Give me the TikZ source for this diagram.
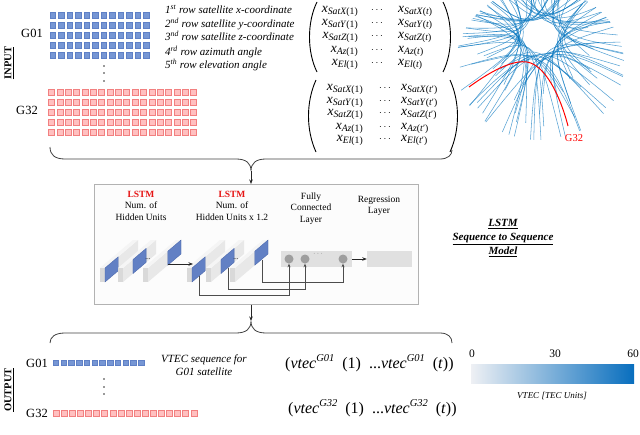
\documentclass[tikz,border=0pt]{standalone}
\usepackage{fontspec}
\setmainfont{Liberation Serif}
\usetikzlibrary{arrows.meta}
\definecolor{skyblue}{RGB}{0,114,189}
\definecolor{sqblue}{RGB}{118,150,212}
\definecolor{sqblueD}{RGB}{95,128,198}
\definecolor{sqred}{RGB}{255,192,192}
\definecolor{sqredD}{RGB}{242,128,128}
\definecolor{slabblue}{RGB}{98,128,196}
\definecolor{slabblueD}{RGB}{70,100,170}
\definecolor{cbL}{RGB}{238,240,244}
\definecolor{cbR}{RGB}{8,110,190}
\definecolor{lstmred}{RGB}{230,20,20}
\newcommand{\myslab}[3]{%
  \begin{scope}[shift={(#1,#2)}]
    \fill[black!9] (5,0) -- (5,-14) -- (38,-42) -- (38,-28) -- cycle;
    \fill[black!4] (0,-14) -- (33,-42) -- (38,-42) -- (5,-14) -- cycle;
    \fill[black!15] (0,0) rectangle (5,-14);
    \filldraw[fill=slabblue, draw=slabblueD, line width=0.3pt] ({5+33*#3},{-28*#3}) -- ++(0,-14) -- ++(13.2,-11.2) -- ++(0,14) -- cycle;
  \end{scope}}
% matrix entry: x with subscript
\newcommand{\xe}[2]{{\fontsize{13.5}{13.5}\selectfont\itshape x}\raisebox{-2pt}{\fontsize{9.7}{9.7}\selectfont\textit{#1}(#2)}}
\newcommand{\vt}[1]{\textit{vtec}\raisebox{6.5pt}{\fontsize{10.5}{11}\selectfont\textit{#1}}}
\begin{document}
\begin{tikzpicture}[x=1pt,y=-1pt,
  bsq/.style={fill=sqblue, draw=sqblueD, line width=0.3pt},
  rsq/.style={fill=sqred, draw=sqredD, line width=0.4pt},
  lbl/.style={font=\fontsize{12.5}{14}\selectfont, inner sep=0},
  rowtxt/.style={font=\fontsize{11}{13}\selectfont\itshape, anchor=base west, inner sep=0},
  ment/.style={font=\fontsize{9.7}{9.7}\selectfont, inner sep=0},
  paren/.style={line width=0.9pt},
  brace/.style={draw=black!75, line width=0.8pt},
  arr/.style={-{Stealth[length=4.5pt,width=3.5pt]}, line width=0.7pt, draw=black!85},
  fb/.style={-{Stealth[length=3.5pt,width=3pt]}, line width=0.6pt, draw=black!70},
  small/.style={font=\fontsize{9.5}{11.5}\selectfont, align=center, inner sep=0},
  vert/.style={font=\fontsize{10.5}{12}\selectfont, rotate=90, inner sep=0},
  skytrack/.style={draw=skyblue, line width=0.55pt, opacity=0.65},
  dotm/.style={fill=black!80},
  vform/.style={font=\fontsize{16}{17}\selectfont, anchor=base west, inner sep=0}
]
\useasboundingbox (0,0) rectangle (640,434);

% ---------------- INPUT ----------------
\node[vert] (inlab) at (9,63) {\underline{\textbf{INPUT}}};
\node[lbl] (g01in) at (32,33) {G01};
\node[lbl] (g32in) at (27,110) {G32};
\foreach \r in {0,...,4}{
  \foreach \c in {0,...,11}{
    \fill[bsq] ({50+\c*8.5},{12.5+\r*10}) rectangle ++(5.6,5.6);
  }
  \foreach \c in {0,...,17}{
    \filldraw[rsq] ({48.5+\c*8.35},{89.5+\r*9.8}) rectangle ++(6,6);
  }
}
\foreach \yy in {66,73,81}{\fill[dotm] (104,\yy) circle (0.9pt);}

\node[rowtxt] (r1) at (165,13.5) {1\textsuperscript{st} row satellite x-coordinate};
\node[rowtxt] (r2) at (165,27.5) {2\textsuperscript{nd} row satellite y-coordinate};
\node[rowtxt] (r3) at (165,40.5) {3\textsuperscript{nd} row satellite z-coordinate};
\node[rowtxt] (r4) at (165,55) {4\textsuperscript{rd} row azimuth angle};
\node[rowtxt] (r5) at (165,68) {5\textsuperscript{th} row elevation angle};

% matrix 1
\foreach \lab/\yy [count=\k] in {SatX/12.5,SatY/25.5,SatZ/38.5,Az/52.3,El/65.3}{
  \node[ment, anchor=base east] (ma\k) at (358,\yy) {\xe{\lab}{1}};
  \node[ment, anchor=base] (mb\k) at (377,\yy) {$\cdots$};
  \node[ment, anchor=base west] (mc\k) at (398,\yy) {\xe{\lab}{\textit{t}}};
}
\draw[paren] (317,2) .. controls (307,22) and (307,52) .. (317,72);
\draw[paren] (443,2) .. controls (453,22) and (453,52) .. (443,72);
% matrix 2
\foreach \lab/\yy [count=\k] in {SatX/90.5,SatY/103,SatZ/115.3,Az/129,El/141.5}{
  \node[ment, anchor=base east] (na\k) at (363,\yy) {\xe{\lab}{1}};
  \node[ment, anchor=base] (nb\k) at (385,\yy) {$\cdots$};
  \node[ment, anchor=base west] (nc\k) at (401,\yy) {\xe{\lab}{\textit{t}′}};
}
\draw[paren] (316,80) .. controls (306,102) and (306,130) .. (316,152);
\draw[paren] (450,80) .. controls (460,102) and (460,130) .. (450,152);

% sky plot
\begin{scope}
  \clip (540,64) ellipse [x radius=84pt, y radius=76pt];
  \pgfmathsetseed{5}
  \foreach \i in {1,...,72}{
    \pgfmathsetmacro{\ph}{\i*5 + 5*rand}
    \pgfmathsetmacro{\rr}{21 + 4*rand}
    \pgfmathsetmacro{\La}{35 + 45*rnd}
    \pgfmathsetmacro{\Lb}{35 + 45*rnd}
    \pgfmathsetmacro{\cc}{0.007+0.010*rnd}
    \pgfmathsetmacro{\tx}{540+\rr*cos(\ph)}
    \pgfmathsetmacro{\ty}{36+0.95*\rr*sin(\ph)}
    \pgfmathsetmacro{\ax}{\tx - \La*sin(\ph) + \cc*\La*\La*cos(\ph)}
    \pgfmathsetmacro{\ay}{\ty + \La*cos(\ph) + \cc*\La*\La*sin(\ph)}
    \pgfmathsetmacro{\bx}{\tx + \Lb*sin(\ph) + \cc*\Lb*\Lb*cos(\ph)}
    \pgfmathsetmacro{\by}{\ty - \Lb*cos(\ph) + \cc*\Lb*\Lb*sin(\ph)}
    \pgfmathsetmacro{\qx}{(8*\tx-\ax-\bx)/6}
    \pgfmathsetmacro{\qy}{(8*\ty-\ay-\by)/6}
    \draw[skytrack] (\ax,\ay) .. controls (\qx,\qy) .. (\bx,\by);
  }
\end{scope}
\draw[red, line width=1pt] (469,87) .. controls (495,68) and (515,60) .. (527,62) .. controls (545,65) and (560,95) .. (568,126);
\node[font=\fontsize{10.5}{12}\selectfont, text=red, inner sep=0] (g32sky) at (574,138) {G32};

% input brace
\coordinate (inL) at (50,147);
\coordinate (inTip) at (251,171);
\coordinate (inR) at (452,150);
\draw[brace] (inL) .. controls (50,155) and (55,159) .. (65,159) -- (236,159)
  .. controls (246,159) and (251,163) .. (inTip)
  .. controls (251,163) and (256,159) .. (266,159) -- (440,159)
  .. controls (448,159) and (452,155) .. (inR);

% ---------------- LSTM block ----------------
\node[draw=black!30, fill=black!1, line width=0.6pt, minimum width=324pt, minimum height=120pt, inner sep=0, anchor=north west] (box) at (94,184) {};
\draw[arr] (inTip) -- (inTip |- box.north);

\node[small] (lstm1) at (141,205.5) {\textcolor{lstmred}{\textbf{LSTM}}\\Num. of\\Hidden Units};
\node[small] (lstm2) at (232,205.5) {\textcolor{lstmred}{\textbf{LSTM}}\\Num. of\\Hidden Units x 1.2};
\node[small] (fcl) at (311,208.5) {Fully\\Connected\\Layer};
\node[small] (regl) at (379,206) {Regression\\Layer};

\myslab{100}{282}{0}
\myslab{118}{282}{0.3}
\myslab{143}{282}{0.6}
\myslab{187}{282}{0}
\myslab{206}{282}{0.3}
\myslab{230}{282}{0.6}
\node[font=\fontsize{7}{8}\selectfont, inner sep=0] (dots1) at (148,259) {...};
\node[font=\fontsize{7}{8}\selectfont, inner sep=0] (dots2) at (236,259) {...};

\coordinate (s13) at (168,264);
\coordinate (s21) at (193,264);
\draw[arr, line width=0.8pt] (s13) -- (s21);

\node[fill=black!12, minimum width=71pt, minimum height=16pt, inner sep=0] (fc) at (316.5,259) {};
\node[circle, fill=black!38, minimum size=9pt, inner sep=0] (c1) at (289,259) {};
\node[circle, fill=black!38, minimum size=9pt, inner sep=0] (c2) at (305,259) {};
\node[circle, fill=black!38, minimum size=9pt, inner sep=0] (c3) at (343,259) {};
\node[font=\fontsize{7}{8}\selectfont, inner sep=0, text=black!60] (dots3) at (318,254) {$\cdots$};
\node[fill=black!12, minimum width=45pt, minimum height=16pt, inner sep=0] (reg) at (389.5,259) {};
\draw[arr] (fc.east) -- (reg.west);

\coordinate (b21) at (199,276);
\coordinate (b22) at (228,268);
\coordinate (b23) at (262,260);
\draw[fb] (b21) -- (b21 |- 0,295) -| (c1.south);
\draw[fb] (b22) -- (b22 |- 0,289) -| (c2.south);
\draw[fb] (b23) -- (b23 |- 0,282) -| (c3.south);

\node[font=\fontsize{11}{14}\selectfont\bfseries\itshape, align=center, inner sep=0] (seqlab) at (503,238)
  {\underline{LSTM}\\\underline{Sequence to Sequence}\\\underline{Model}};

% ---------------- OUTPUT ----------------
\coordinate (outTip) at (251,321);
\draw[arr] (outTip |- box.south) -- (outTip);
\coordinate (outL) at (50,343);
\coordinate (outR) at (452,343);
\draw[brace] (outL) .. controls (50,337) and (55,333) .. (65,333) -- (236,333)
  .. controls (246,333) and (251,329) .. (outTip)
  .. controls (251,329) and (256,333) .. (266,333) -- (440,333)
  .. controls (448,333) and (452,337) .. (outR);

\node[vert] (outlab) at (9,390) {\underline{\textbf{OUTPUT}}};
\node[lbl] (g01out) at (37,363) {G01};
\node[lbl] (g32out) at (37,413) {G32};
\foreach \c in {0,...,11}{\fill[bsq] ({53+\c*7.75},360) rectangle ++(5.6,5.6);}
\foreach \c in {0,...,17}{\filldraw[rsq] ({53+\c*8.1},410) rectangle ++(6,6);}
\foreach \yy in {379,387,394}{\fill[dotm] (104,\yy) circle (0.9pt);}
\node[font=\fontsize{11}{13}\selectfont\itshape, align=center, inner sep=0] (vseq) at (204,365.5) {VTEC sequence for\\G01 satellite};

\node[vform] (v1) at (285,368) {(\vt{G01}\enspace(1)\enspace...\vt{G01}\enspace(\textit{t}))};
\node[vform] (v2) at (288,413) {(\vt{G32}\enspace(1)\enspace...\vt{G32}\enspace(\textit{t}))};

% colorbar
\shade[left color=cbL, right color=cbR] (471,364) rectangle (634,383);
\node[font=\fontsize{11.5}{13}\selectfont, inner sep=0] (cb0) at (472,354) {0};
\node[font=\fontsize{11.5}{13}\selectfont, inner sep=0] (cb30) at (555,354) {30};
\node[font=\fontsize{11.5}{13}\selectfont, inner sep=0] (cb60) at (633,354) {60};
\node[font=\fontsize{9}{11}\selectfont\itshape, inner sep=0] (cblab) at (552,396) {VTEC [TEC Units]};
\end{tikzpicture}
\end{document}
